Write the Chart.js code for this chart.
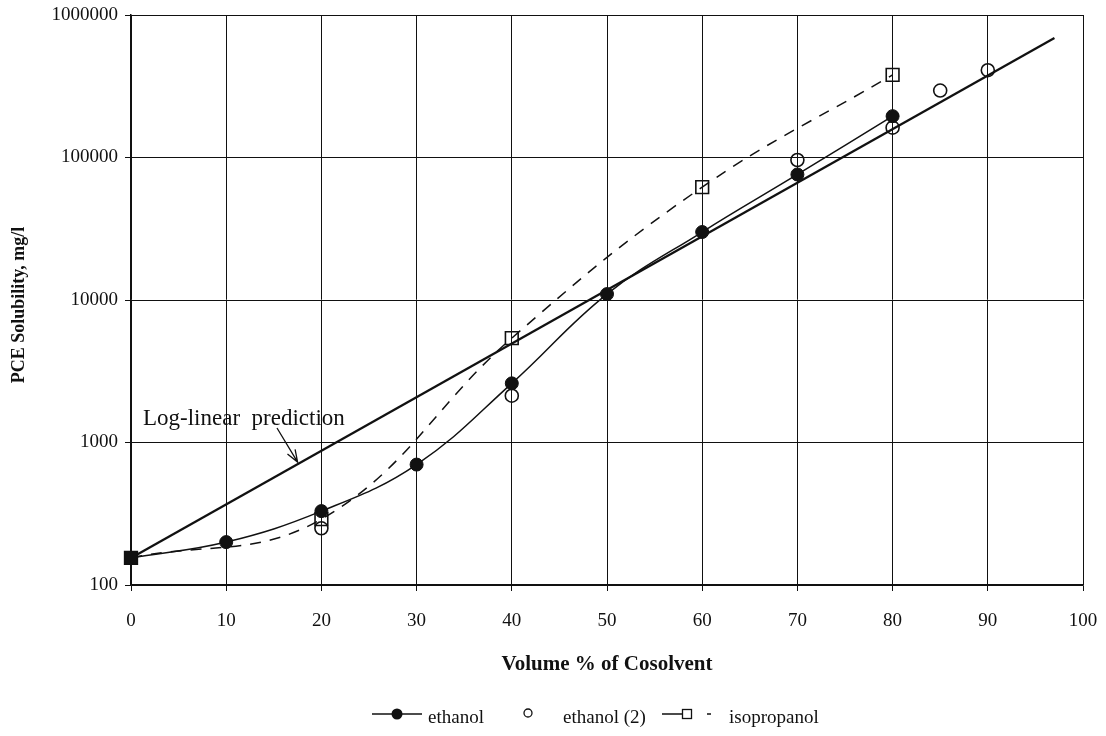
<!DOCTYPE html>
<html>
<head>
<meta charset="utf-8">
<script src="https://cdn.jsdelivr.net/npm/chart.js@4"></script>
<style>
	html, body { margin: 0; padding: 0; background: #fff; }
	#wrap { width: 1106px; height: 736px; }
</style>
</head>
<body>
<div id="wrap"><canvas id="chartSolubility" width="1106" height="736"></canvas></div>
<script>
const ETHANOL_X = [0, 10, 20, 30, 40, 50, 60, 70, 80];
const ETHANOL_Y = [155, 200, 330, 700, 2600, 11000, 30000, 76000, 195000];
const ETHANOL2_X = [20, 40, 70, 80, 85, 90];
const ETHANOL2_Y = [250, 2130, 96000, 162000, 295000, 410000];
const ISOPROPANOL_X = [0, 20, 40, 60, 80];
const ISOPROPANOL_Y = [155, 290, 5400, 62000, 380000];
const PREDICTION_X = [0, 97];
const PREDICTION_Y = [155, 690000];
const Y_TICKS = [100, 1000, 10000, 100000, 1000000];

const FONT = '"Liberation Serif", "Times New Roman", serif';
const INK = '#111';

function toPoints(xs, ys) {
	return xs.map((x, i) => ({ x: x, y: ys[i] }));
}

// value of the prediction line at x, in log space
function predictionAt(x) {
	const l0 = Math.log10(PREDICTION_Y[0]);
	const l1 = Math.log10(PREDICTION_Y[1]);
	const t = (x - PREDICTION_X[0]) / (PREDICTION_X[1] - PREDICTION_X[0]);
	return Math.pow(10, l0 + (l1 - l0) * t);
}

// titles, legend and the arrow note are drawn by hand
const extrasPlugin = {
	id: 'extras',
	afterDraw(chart) {
		const ctx = chart.ctx;
		const area = chart.chartArea;
		const xs = chart.scales.x;
		const ys = chart.scales.y;
		ctx.save();
		ctx.fillStyle = INK;
		ctx.strokeStyle = INK;

		// y title
		ctx.font = 'bold 18px ' + FONT;
		ctx.textAlign = 'center';
		ctx.textBaseline = 'middle';
		ctx.save();
		ctx.translate(19, 305);
		ctx.rotate(-Math.PI / 2);
		ctx.fillText('PCE Solubility, mg/l', 0, 0);
		ctx.restore();

		// x title
		ctx.font = 'bold 21px ' + FONT;
		ctx.fillText('Volume % of Cosolvent', (area.left + area.right) / 2, 665);

		// log-linear note and arrow
		ctx.font = '23px ' + FONT;
		ctx.textAlign = 'left';
		ctx.fillText('Log-linear  prediction', 143, 419);
		const ax0 = 277, ay0 = 428;
		const tipX = 17.5;
		const ax1 = xs.getPixelForValue(tipX);
		const ay1 = ys.getPixelForValue(predictionAt(tipX)) - 2;
		ctx.lineWidth = 1.3;
		ctx.beginPath();
		ctx.moveTo(ax0, ay0);
		ctx.lineTo(ax1, ay1);
		const ang = Math.atan2(ay1 - ay0, ax1 - ax0);
		ctx.moveTo(ax1 - 13 * Math.cos(ang - 0.35), ay1 - 13 * Math.sin(ang - 0.35));
		ctx.lineTo(ax1, ay1);
		ctx.lineTo(ax1 - 13 * Math.cos(ang + 0.35), ay1 - 13 * Math.sin(ang + 0.35));
		ctx.stroke();

		// legend
		const ly = 714;
		ctx.font = '19px ' + FONT;
		ctx.textBaseline = 'middle';
		ctx.lineWidth = 1.3;
		ctx.beginPath();
		ctx.moveTo(372, ly);
		ctx.lineTo(422, ly);
		ctx.stroke();
		ctx.beginPath();
		ctx.arc(397, ly, 5.5, 0, Math.PI * 2);
		ctx.fill();
		ctx.fillText('ethanol', 428, ly + 4);

		ctx.beginPath();
		ctx.arc(528, ly - 1, 4, 0, Math.PI * 2);
		ctx.stroke();
		ctx.fillText('ethanol (2)', 563, ly + 4);

		ctx.beginPath();
		ctx.moveTo(662, ly);
		ctx.lineTo(682, ly);
		ctx.moveTo(707, ly);
		ctx.lineTo(711, ly);
		ctx.stroke();
		ctx.strokeRect(682.5, ly - 4.5, 9, 9);
		ctx.fillText('isopropanol', 729, ly + 4);

		ctx.restore();
	},
};

const ctx = document.querySelector('#chartSolubility').getContext('2d');

const solubilityChart = new Chart(ctx, {
	type: 'scatter',
	data: {
		datasets: [
			{
				label: 'ethanol',
				data: toPoints(ETHANOL_X, ETHANOL_Y),
				showLine: true,
				tension: 0.4,
				borderColor: INK,
				borderWidth: 1.5,
				backgroundColor: INK,
				pointStyle: ETHANOL_X.map((x, i) => (i === 0 ? 'rect' : 'circle')),
				pointRadius: ETHANOL_X.map((x, i) => (i === 0 ? 9 : 6.5)),
				pointBorderWidth: 1,
				clip: false,
			},
			{
				label: 'ethanol (2)',
				data: toPoints(ETHANOL2_X, ETHANOL2_Y),
				showLine: false,
				borderColor: INK,
				backgroundColor: 'rgba(0,0,0,0)',
				pointStyle: 'circle',
				pointRadius: 6.5,
				pointBorderWidth: 1.6,
				clip: false,
			},
			{
				label: 'isopropanol',
				data: toPoints(ISOPROPANOL_X, ISOPROPANOL_Y),
				showLine: true,
				tension: 0.4,
				borderColor: INK,
				borderWidth: 1.5,
				borderDash: [11, 9],
				backgroundColor: 'rgba(0,0,0,0)',
				pointStyle: 'rect',
				pointRadius: 9,
				pointBorderWidth: 1.6,
				clip: false,
			},
			{
				label: 'Log-linear prediction',
				data: toPoints(PREDICTION_X, PREDICTION_Y),
				showLine: true,
				borderColor: INK,
				borderWidth: 2.3,
				pointRadius: 0,
				clip: false,
			},
		],
	},
	options: {
		responsive: false,
		animation: false,
		layout: {
			padding: { left: 0, top: 15, right: 23, bottom: 0 },
		},
		scales: {
			x: {
				type: 'linear',
				min: 0,
				max: 100,
				ticks: {
					stepSize: 10,
					color: INK,
					padding: 19,
					maxRotation: 0,
					font: { family: FONT, size: 19 },
				},
				grid: {
					color: INK,
					lineWidth: 1,
					tickLength: 6,
				},
				border: { color: INK, width: 1.5 },
				afterFit(scale) {
					scale.height = 151;
					scale.paddingLeft = 0;
					scale.paddingRight = 0;
				},
			},
			y: {
				type: 'logarithmic',
				min: 100,
				max: 1000000,
				afterBuildTicks(scale) {
					scale.ticks = Y_TICKS.map(v => ({ value: v }));
				},
				ticks: {
					color: INK,
					padding: 7,
					font: { family: FONT, size: 19 },
					callback: v => String(v),
				},
				grid: {
					color: INK,
					lineWidth: 1,
					tickLength: 6,
				},
				border: { color: INK, width: 1.5 },
				afterFit(scale) {
					scale.width = 131;
					scale.paddingTop = 0;
					scale.paddingBottom = 0;
				},
			},
		},
		plugins: {
			legend: { display: false },
			tooltip: { enabled: false },
			title: { display: false },
		},
	},
	plugins: [extrasPlugin],
});
</script>
</body>
</html>
